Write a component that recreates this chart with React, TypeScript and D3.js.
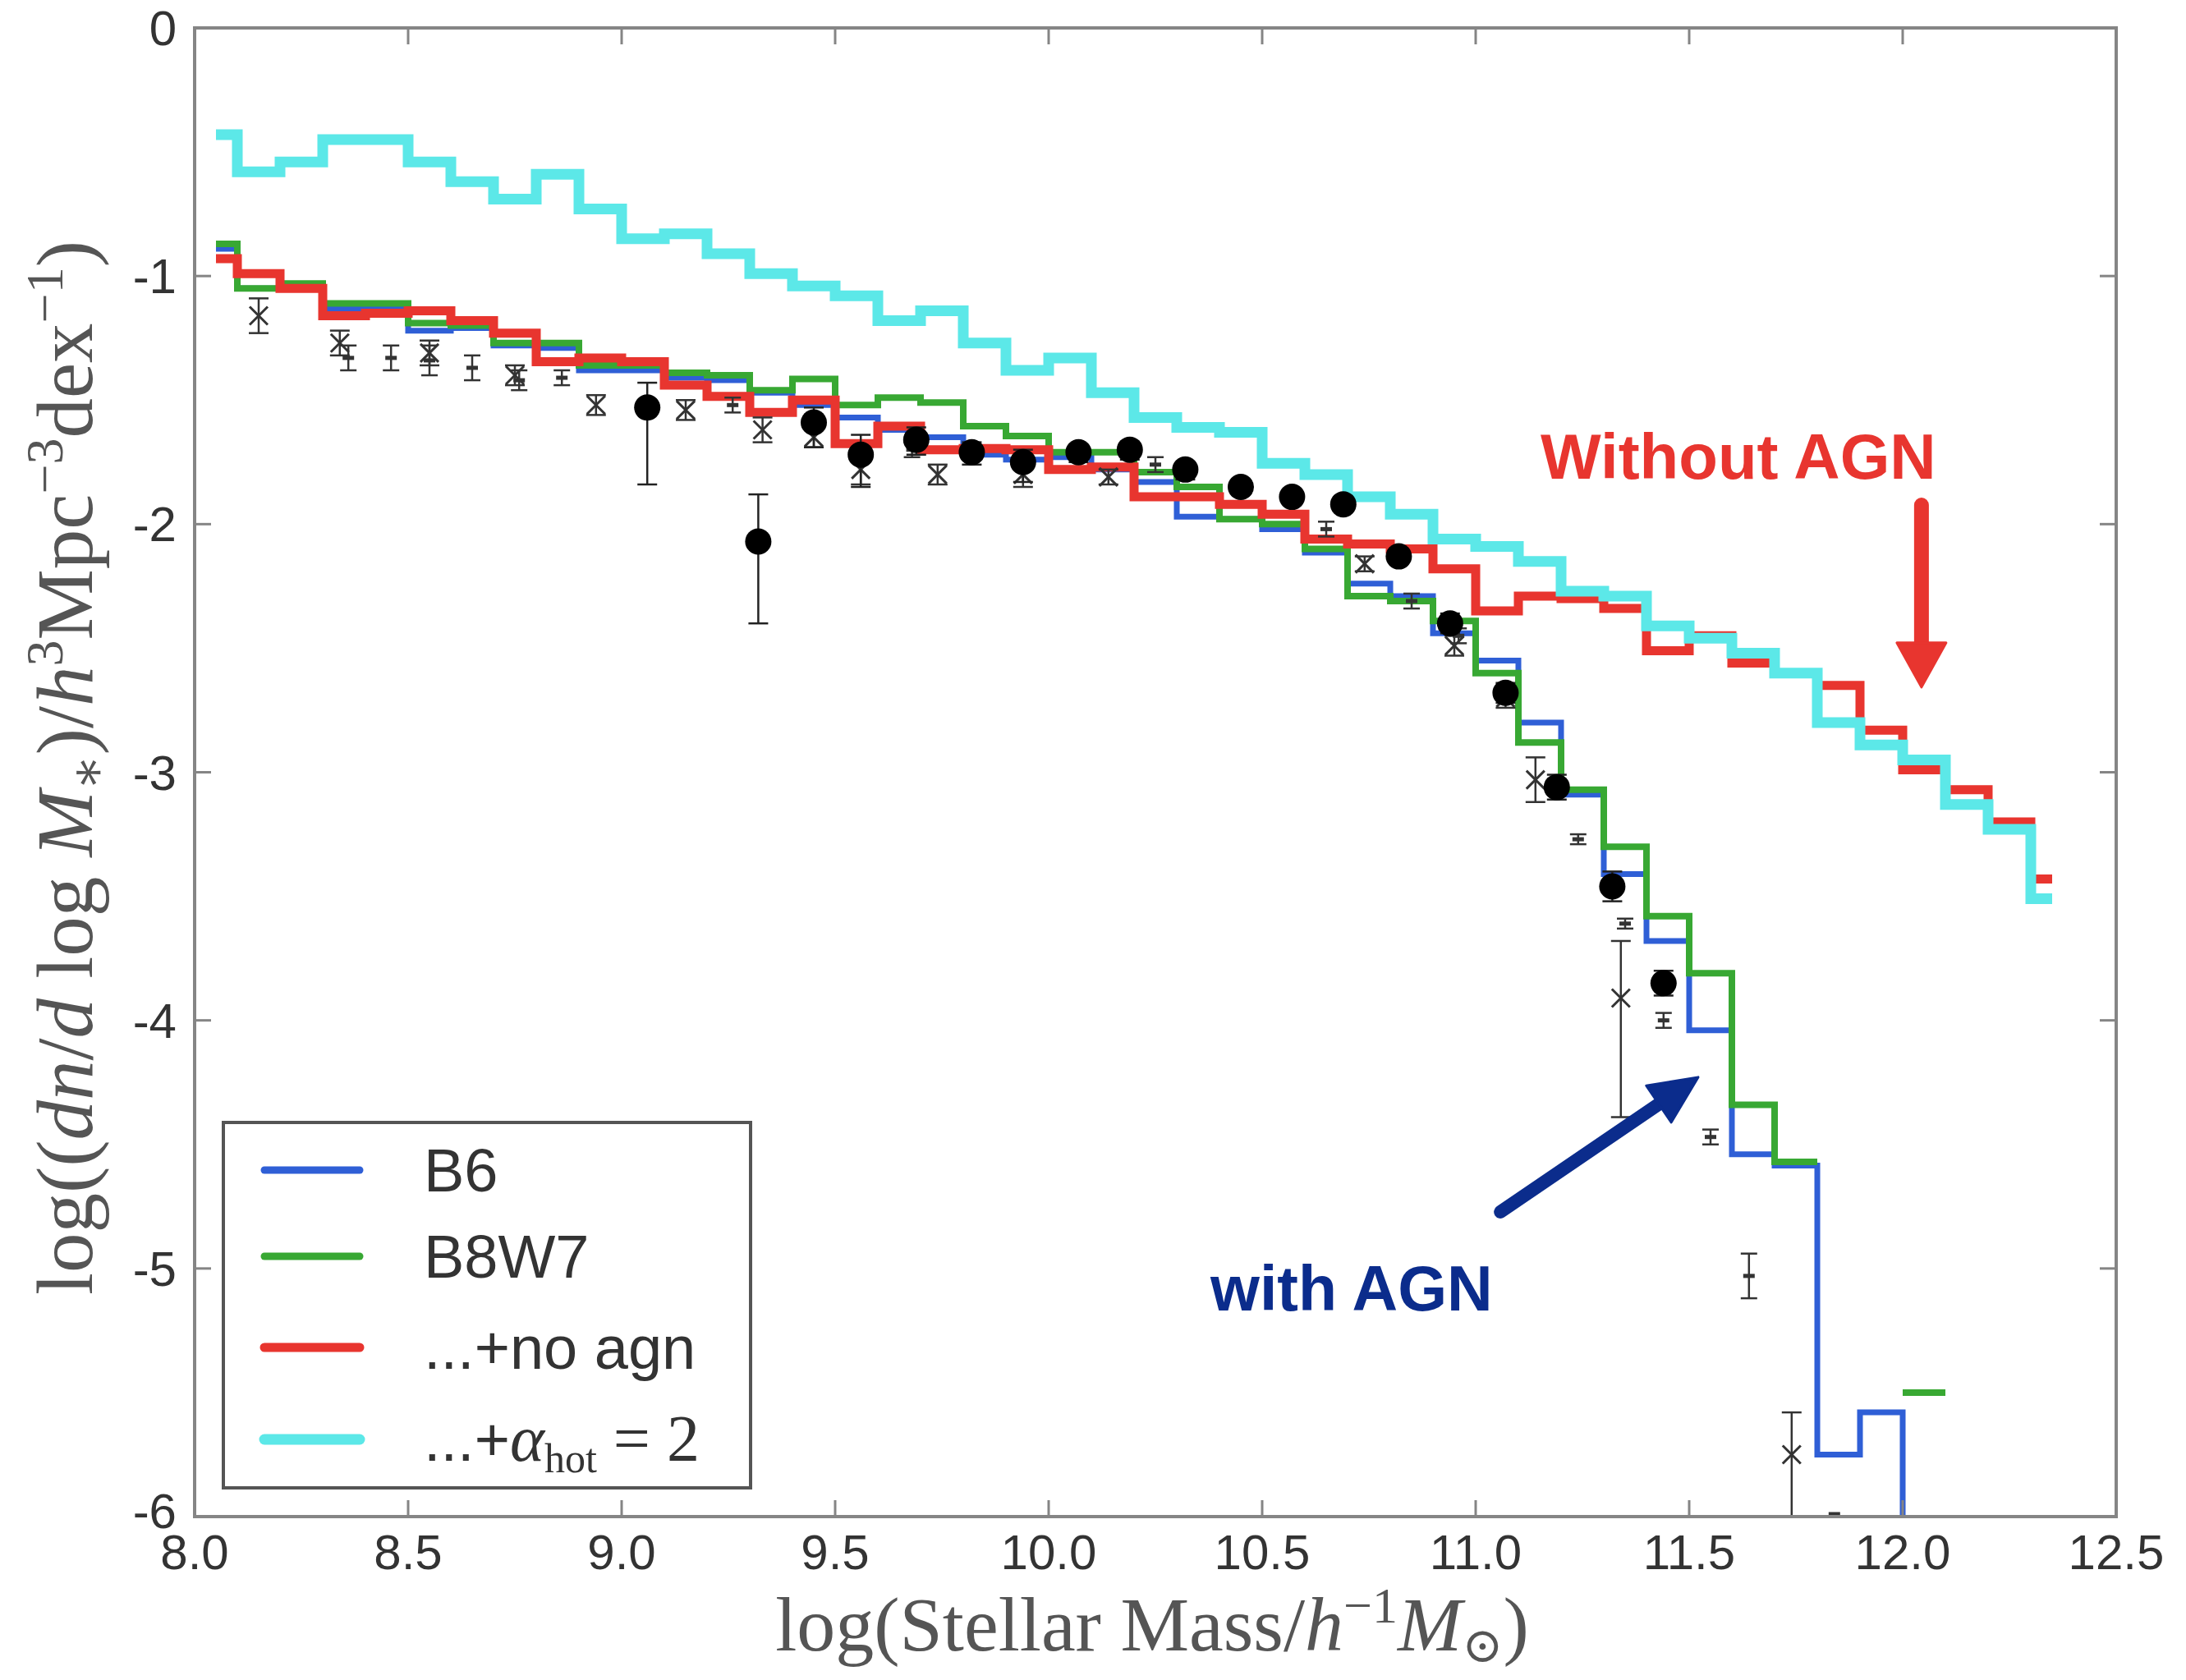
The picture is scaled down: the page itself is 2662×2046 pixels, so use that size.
import React from 'react';
import * as d3 from 'd3';

// ---------- data ----------
const binCenters = [8.05, 8.15, 8.25, 8.35, 8.45, 8.55, 8.65, 8.75, 8.85, 8.95,
  9.05, 9.15, 9.25, 9.35, 9.45, 9.55, 9.65, 9.75, 9.85, 9.95,
  10.05, 10.15, 10.25, 10.35, 10.45, 10.55, 10.65, 10.75, 10.85, 10.95,
  11.05, 11.15, 11.25, 11.35, 11.45, 11.55, 11.65, 11.75, 11.85, 11.95,
  12.05, 12.15, 12.25, 12.35];

const seriesB6: (number | null)[] = [-0.89, -1.05, -1.04, -1.13, -1.12, -1.22, -1.21, -1.28, -1.29, -1.38,
  -1.38, -1.41, -1.42, -1.47, -1.52, -1.57, -1.62, -1.65, -1.72, -1.74,
  -1.73, -1.78, -1.83, -1.97, -1.98, -2.02, -2.115, -2.24, -2.29, -2.44,
  -2.55, -2.80, -3.09, -3.41, -3.68, -4.04, -4.54, -4.585, -5.75, -5.58,
  -7, null, null, null];

const seriesB8W7: (number | null)[] = [-0.87, -1.05, -1.03, -1.11, -1.11, -1.19, -1.20, -1.27, -1.27, -1.36,
  -1.36, -1.39, -1.40, -1.46, -1.415, -1.52, -1.49, -1.51, -1.605, -1.645,
  -1.71, -1.71, -1.79, -1.85, -1.98, -2.00, -2.10, -2.29, -2.31, -2.39,
  -2.60, -2.88, -3.07, -3.30, -3.58, -3.81, -4.34, -4.57, null, null,
  -5.50, null, null, null];

const seriesNoAgn: (number | null)[] = [-0.93, -0.99, -1.05, -1.16, -1.15, -1.14, -1.18, -1.23, -1.345, -1.33,
  -1.345, -1.44, -1.485, -1.55, -1.50, -1.675, -1.605, -1.70, -1.695, -1.70,
  -1.78, -1.77, -1.89, -1.89, -1.92, -1.96, -2.06, -2.08, -2.10, -2.18,
  -2.35, -2.29, -2.30, -2.34, -2.51, -2.45, -2.56, -2.60, -2.65, -2.83,
  -2.99, -3.07, -3.20, -3.43];

const seriesAlphaHot: (number | null)[] = [-0.43, -0.58, -0.54, -0.45, -0.45, -0.54, -0.62, -0.69, -0.59, -0.73,
  -0.85, -0.83, -0.91, -0.99, -1.04, -1.08, -1.18, -1.14, -1.27, -1.38,
  -1.33, -1.47, -1.57, -1.61, -1.63, -1.755, -1.80, -1.89, -1.96, -2.06,
  -2.09, -2.15, -2.27, -2.29, -2.41, -2.46, -2.52, -2.60, -2.80, -2.89,
  -2.95, -3.13, -3.23, -3.51];

// observational points: filled circles
const circleX = [9.06, 9.32, 9.45, 9.56, 9.69, 9.82, 9.94, 10.07, 10.19, 10.32, 10.45, 10.57, 10.69, 10.82, 10.94, 11.07, 11.19, 11.32, 11.44];
const circleY = [-1.53, -2.07, -1.59, -1.72, -1.66, -1.71, -1.75, -1.71, -1.70, -1.78, -1.85, -1.89, -1.92, -2.13, -2.40, -2.68, -3.06, -3.46, -3.85];
const circleErrLo = [0.31, 0.33, 0.10, 0.13, 0.06, 0.05, 0.08, 0.04, 0.04, 0.04, 0.03, 0.03, 0.03, 0.03, 0.04, 0.04, 0.05, 0.06, 0.05];
const circleErrHi = [0.10, 0.19, 0.06, 0.08, 0.05, 0.04, 0.05, 0.03, 0.03, 0.03, 0.03, 0.03, 0.03, 0.03, 0.04, 0.04, 0.05, 0.06, 0.05];

// observational points: crosses
const crossX = [8.15, 8.34, 8.55, 8.75, 8.94, 9.15, 9.33, 9.45, 9.56, 9.74, 9.94, 10.14, 10.74, 10.95, 11.07, 11.14, 11.34, 11.74];
const crossY = [-1.16, -1.27, -1.31, -1.40, -1.52, -1.54, -1.62, -1.65, -1.78, -1.80, -1.80, -1.81, -2.16, -2.49, -2.70, -3.03, -3.91, -5.75];
const crossErrLo = [0.07, 0.05, 0.05, 0.04, 0.04, 0.04, 0.05, 0.04, 0.06, 0.04, 0.05, 0.03, 0.03, 0.04, 0.04, 0.09, 0.48, 0.40];
const crossErrHi = [0.07, 0.05, 0.05, 0.04, 0.04, 0.04, 0.05, 0.04, 0.06, 0.04, 0.05, 0.03, 0.03, 0.04, 0.04, 0.09, 0.23, 0.17];

// observational points: small dots
const dotX = [8.36, 8.46, 8.55, 8.65, 8.76, 8.86, 9.26, 9.68, 10.25, 10.65, 10.85, 10.96, 11.24, 11.35, 11.44, 11.55, 11.64, 11.84];
const dotY = [-1.33, -1.33, -1.34, -1.37, -1.42, -1.41, -1.52, -1.70, -1.76, -2.02, -2.31, -2.45, -3.27, -3.61, -4.00, -4.47, -5.03, -5.99];
const dotErr = [0.05, 0.05, 0.06, 0.05, 0.04, 0.03, 0.03, 0.03, 0.03, 0.03, 0.03, 0.03, 0.02, 0.02, 0.03, 0.03, 0.09, 0.0];

const xTicks = [8.0, 8.5, 9.0, 9.5, 10.0, 10.5, 11.0, 11.5, 12.0, 12.5];
const yTicks = [0, -1, -2, -3, -4, -5, -6];

const legendLabels = ['B6', 'B8W7', '...+no agn'];

// ---------- layout ----------
const W = 2662, H = 2046;
const X0 = 237, X1 = 2577, Y0 = 34, Y1 = 1847;

const COL_BLUE = '#2f5fd6';
const COL_GREEN = '#38a833';
const COL_RED = '#e8352f';
const COL_CYAN = '#5ce8e8';
const COL_NAVY = '#0b2c8c';

function stepPath(xs: number[], ys: (number | null)[], x: d3.ScaleLinear<number, number>, y: d3.ScaleLinear<number, number>) {
  const n = xs.length;
  let d = '';
  let prevDefined = false;
  for (let i = 0; i < n; i++) {
    const v = ys[i];
    if (v === null || v === undefined) { prevDefined = false; continue; }
    const left = i === 0 ? xs[0] : (xs[i - 1] + xs[i]) / 2;
    const right = i === n - 1 ? xs[n - 1] : (xs[i] + xs[i + 1]) / 2;
    if (prevDefined) d += `L${x(left)},${y(v)}`;
    else d += `M${x(left)},${y(v)}`;
    d += `L${x(right)},${y(v)}`;
    prevDefined = true;
  }
  return d;
}

function Arrow({ x1, y1, x2, y2, color, shaft, headLen, headW }: any) {
  const dx = x2 - x1, dy = y2 - y1;
  const L = Math.sqrt(dx * dx + dy * dy);
  const ux = dx / L, uy = dy / L;
  const bx = x2 - ux * headLen, by = y2 - uy * headLen;
  const px = -uy, py = ux;
  const pts = [[x2, y2], [bx + px * headW / 2, by + py * headW / 2], [bx - px * headW / 2, by - py * headW / 2]];
  return (
    <g>
      <line x1={x1} y1={y1} x2={bx + ux * 4} y2={by + uy * 4} stroke={color} strokeWidth={shaft} strokeLinecap="round" />
      <polygon points={pts.map(p => p.join(',')).join(' ')} fill={color} stroke={color} strokeWidth={3} strokeLinejoin="round" />
    </g>
  );
}

export default function App() {
  const x = d3.scaleLinear().domain([8, 12.5]).range([X0, X1]);
  const y = d3.scaleLinear().domain([-6, 0]).range([Y1, Y0]);
  const fmtX = d3.format('.1f');

  const series = [
    { vals: seriesB6, color: COL_BLUE, w: 7 },
    { vals: seriesB8W7, color: COL_GREEN, w: 8 },
    { vals: seriesNoAgn, color: COL_RED, w: 11 },
    { vals: seriesAlphaHot, color: COL_CYAN, w: 13 },
  ];

  const tickLen = 20;
  const errColor = '#222';
  const legendX = X0 + 35, legendY = 1367, legendW = 642, legendH = 445;
  const legendRowY = [1425, 1530, 1641, 1753];
  const legendColors = [COL_BLUE, COL_GREEN, COL_RED, COL_CYAN];
  const legendWidths = [9, 9, 11, 13];
  const serif = "'Liberation Serif', 'DejaVu Serif', serif";

  return (
    <svg width={W} height={H} style={{ position: 'absolute', left: 0, top: 0, display: 'block', background: '#fff' }}>
      <defs>
        <clipPath id="plotclip">
          <rect x={X0} y={Y0} width={X1 - X0} height={Y1 - Y0} />
        </clipPath>
      </defs>
      <rect x={0} y={0} width={W} height={H} fill="#fff" />

      {/* series */}
      <g clipPath="url(#plotclip)" fill="none" strokeLinejoin="miter">
        {series.map((s, i) => (
          <path key={i} d={stepPath(binCenters, s.vals, x, y)} stroke={s.color} strokeWidth={s.w} />
        ))}
      </g>

      {/* observations */}
      <g clipPath="url(#plotclip)">
        {dotX.map((v, i) => (
          <g key={'d' + i} stroke="#333" strokeWidth={2.5}>
            {dotErr[i] > 0 && <>
              <line x1={x(v)} x2={x(v)} y1={y(dotY[i] + dotErr[i])} y2={y(dotY[i] - dotErr[i])} />
              <line x1={x(v) - 10} x2={x(v) + 10} y1={y(dotY[i] + dotErr[i])} y2={y(dotY[i] + dotErr[i])} />
              <line x1={x(v) - 10} x2={x(v) + 10} y1={y(dotY[i] - dotErr[i])} y2={y(dotY[i] - dotErr[i])} />
            </>}
            <line x1={x(v) - 7} x2={x(v) + 7} y1={y(dotY[i])} y2={y(dotY[i])} strokeWidth={5} />
          </g>
        ))}
        {crossX.map((v, i) => {
          const cx = x(v), cy = y(crossY[i]);
          const yt = y(crossY[i] + crossErrHi[i]), yb = y(crossY[i] - crossErrLo[i]);
          return (
            <g key={'c' + i} stroke="#333" strokeWidth={2.5}>
              <line x1={cx} x2={cx} y1={yt} y2={yb} />
              <line x1={cx - 12} x2={cx + 12} y1={yt} y2={yt} />
              <line x1={cx - 12} x2={cx + 12} y1={yb} y2={yb} />
              <line x1={cx - 11} x2={cx + 11} y1={cy - 11} y2={cy + 11} strokeWidth={3} />
              <line x1={cx - 11} x2={cx + 11} y1={cy + 11} y2={cy - 11} strokeWidth={3} />
            </g>
          );
        })}
        {circleX.map((v, i) => {
          const cx = x(v), cy = y(circleY[i]);
          const yt = y(circleY[i] + circleErrHi[i]), yb = y(circleY[i] - circleErrLo[i]);
          return (
            <g key={'o' + i}>
              <g stroke={errColor} strokeWidth={2.5}>
                <line x1={cx} x2={cx} y1={yt} y2={yb} />
                <line x1={cx - 12} x2={cx + 12} y1={yt} y2={yt} />
                <line x1={cx - 12} x2={cx + 12} y1={yb} y2={yb} />
              </g>
              <circle cx={cx} cy={cy} r={16} fill="#000" />
            </g>
          );
        })}
      </g>

      {/* frame */}
      <rect x={X0} y={Y0} width={X1 - X0} height={Y1 - Y0} fill="none" stroke="#858585" strokeWidth={4} />
      <g stroke="#858585" strokeWidth={3}>
        {xTicks.map((t, i) => (
          <g key={'xt' + i}>
            <line x1={x(t)} x2={x(t)} y1={Y1} y2={Y1 - tickLen} />
            <line x1={x(t)} x2={x(t)} y1={Y0} y2={Y0 + tickLen} />
          </g>
        ))}
        {yTicks.map((t, i) => (
          <g key={'yt' + i}>
            <line x1={X0} x2={X0 + tickLen} y1={y(t)} y2={y(t)} />
            <line x1={X1} x2={X1 - tickLen} y1={y(t)} y2={y(t)} />
          </g>
        ))}
      </g>

      {/* tick labels */}
      <g fontFamily="'Liberation Sans', Arial, sans-serif" fontSize={60} fill="#333">
        {xTicks.map((t, i) => (
          <text key={'xl' + i} x={x(t)} y={Y1 + 64} textAnchor="middle">{fmtX(t)}</text>
        ))}
        {yTicks.map((t, i) => (
          <text key={'yl' + i} x={X0 - 22} y={y(t) + (t === -6 ? 14 : 21)} textAnchor="end">{t === 0 ? '0' : '-' + Math.abs(t)}</text>
        ))}
      </g>

      {/* axis labels */}
      <text x={1403} y={2010} textAnchor="middle" fontFamily={serif} fontSize={94} fill="#555">
        log(Stellar Mass/<tspan fontStyle="italic">h</tspan><tspan dy={-34} fontSize={62}>−1</tspan><tspan dy={34} fontStyle="italic">M</tspan><tspan dy={14} fontSize={60}>⊙</tspan><tspan dy={-14}>)</tspan>
      </text>
      <text transform="translate(112,935) rotate(-90)" textAnchor="middle" fontFamily={serif} fontSize={97} fill="#555">
        log((<tspan fontStyle="italic">dn</tspan>/<tspan fontStyle="italic">d</tspan>{' '}log{' '}<tspan fontStyle="italic">M</tspan><tspan dy={16} fontSize={64}>∗</tspan><tspan dy={-16}>)/</tspan><tspan fontStyle="italic">h</tspan><tspan dy={-36} fontSize={64}>3</tspan><tspan dy={36}>Mpc</tspan><tspan dy={-36} fontSize={64}>−3</tspan><tspan dy={36}>dex</tspan><tspan dy={-36} fontSize={64}>−1</tspan><tspan dy={36}>)</tspan>
      </text>

      {/* legend */}
      <rect x={legendX} y={legendY} width={legendW} height={legendH} fill="#fff" stroke="#555" strokeWidth={4} />
      {legendRowY.map((ly, i) => (
        <line key={'ll' + i} x1={legendX + 50} x2={legendX + 166} y1={ly} y2={ly} stroke={legendColors[i]} strokeWidth={legendWidths[i]} strokeLinecap="round" />
      ))}
      <g fontFamily="'Liberation Sans', Arial, sans-serif" fontSize={74} fill="#333">
        <text x={legendX + 244} y={legendRowY[0] + 26}>{legendLabels[0]}</text>
        <text x={legendX + 244} y={legendRowY[1] + 26}>{legendLabels[1]}</text>
        <text x={legendX + 244} y={legendRowY[2] + 26}>{legendLabels[2]}</text>
        <text x={legendX + 244} y={legendRowY[3] + 26}>...+<tspan fontFamily={serif} fontStyle="italic" fontSize={80}>α</tspan><tspan fontFamily={serif} fontSize={50} dy={14}>hot</tspan><tspan fontFamily={serif} fontSize={80} dy={-14}>{' '}= 2</tspan></text>
      </g>

      {/* annotations */}
      <text x={x(11.152)} y={y(-1.817)} fontFamily="'Liberation Sans', Arial, sans-serif" fontWeight="bold" fontSize={78} fill={COL_RED}>Without AGN</text>
      <Arrow x1={x(12.044)} y1={y(-1.923)} x2={x(12.044)} y2={y(-2.657)} color={COL_RED} shaft={18} headLen={54} headW={60} />
      <text x={x(10.379)} y={y(-5.169)} fontFamily="'Liberation Sans', Arial, sans-serif" fontWeight="bold" fontSize={77} fill={COL_NAVY}>with AGN</text>
      <Arrow x1={x(11.058)} y1={y(-4.772)} x2={x(11.521)} y2={y(-4.229)} color={COL_NAVY} shaft={16} headLen={58} headW={54} />
    </svg>
  );
}
